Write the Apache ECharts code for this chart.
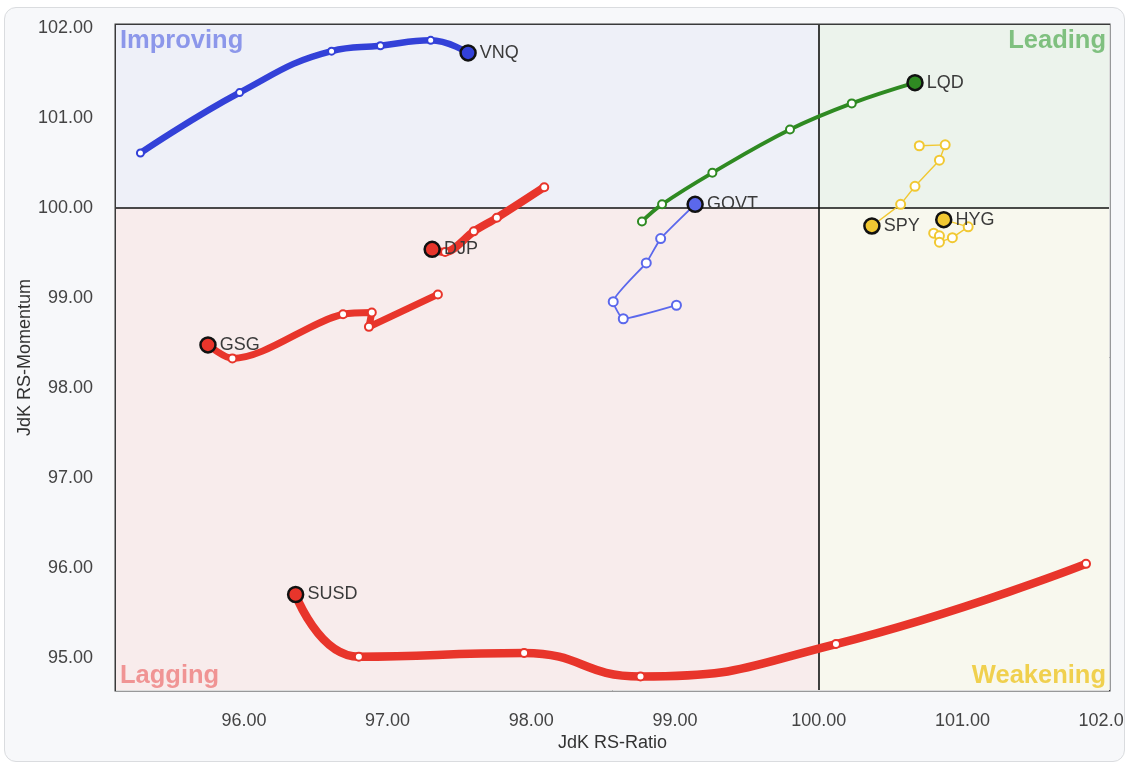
<!DOCTYPE html>
<html>
<head>
<meta charset="utf-8">
<script src="https://cdn.jsdelivr.net/npm/echarts@6/dist/echarts.min.js"></script>
<style>
  html, body { margin: 0; padding: 0; background: #ffffff; width: 1136px; height: 768px; overflow: hidden; }
  #card { position: absolute; left: 4px; top: 7px; width: 1119px; height: 753px; border: 1px solid #dadcdf; border-radius: 12px; background: #f7f8fa; overflow: hidden; }
  #chart { position: absolute; left: 0; top: 0; width: 1119px; height: 753px; }
</style>
</head>
<body>
<div id="card"><div id="chart"></div></div>
<script>
// ---- axis extents ----
const xRange = [95.11, 102.02];
const yRange = [94.65, 102.03];
const centerX = 100;
const centerY = 100;
const splitCount = 7;

// ---- quadrant names ----
const quadrantNames = ['Improving', 'Leading', 'Lagging', 'Weakening'];

// ---- tickers (trail from oldest to latest; last point = head) ----
const tickers = ['VNQ', 'GSG', 'DJP', 'SUSD', 'GOVT', 'LQD', 'SPY', 'HYG'];
const vnqTrail  = [[95.28,100.61],[95.97,101.28],[96.61,101.74],[96.95,101.80],[97.30,101.86],[97.56,101.72]];
const gsgTrail  = [[97.35,99.04],[96.87,98.68],[96.89,98.84],[96.69,98.82],[95.92,98.33],[95.75,98.48]];
const djpTrail  = [[98.09,100.23],[97.76,99.89],[97.60,99.74],[97.40,99.51],[97.31,99.54]];
const susdTrail = [[101.86,96.05],[100.12,95.16],[98.76,94.80],[97.95,95.06],[96.80,95.02],[96.36,95.71]];
const govtTrail = [[99.01,98.92],[98.64,98.77],[98.57,98.96],[98.80,99.39],[98.90,99.66],[99.14,100.04]];
const lqdTrail  = [[98.77,99.85],[98.91,100.04],[99.26,100.39],[99.80,100.87],[100.23,101.16],[100.67,101.39]];
const spyTrail  = [[100.70,100.69],[100.88,100.70],[100.84,100.53],[100.67,100.24],[100.57,100.04],[100.37,99.80]];
const hygTrail  = [[100.80,99.72],[100.84,99.69],[100.84,99.62],[100.93,99.67],[101.04,99.79],[100.87,99.87]];

const trails = { VNQ: vnqTrail, GSG: gsgTrail, DJP: djpTrail, SUSD: susdTrail, GOVT: govtTrail, LQD: lqdTrail, SPY: spyTrail, HYG: hygTrail };

// ---- styles ----
const styles = {
  VNQ:  { color: '#3341d8', width: 6.5, smooth: 0.45, dot: 7 },
  GSG:  { color: '#e8352b', width: 7,   smooth: 0.3,  dot: 8 },
  DJP:  { color: '#e8352b', width: 8,   smooth: 0.3,  dot: 8 },
  SUSD: { color: '#e8352b', width: 8.5, smooth: 0.5,  dot: 8 },
  GOVT: { color: '#5b68ec', width: 1.8, smooth: 0.15, dot: 9 },
  LQD:  { color: '#2f8a22', width: 3.8, smooth: 0.4,  dot: 8 },
  SPY:  { color: '#f1c832', width: 1.4, smooth: 0,    dot: 9 },
  HYG:  { color: '#f1c832', width: 1.4, smooth: 0,    dot: 9 }
};
const quadColors = ['#eef0f8', '#ecf3ec', '#f8ecec', '#f8f8ee'];
const quadText   = ['#8c97ea', '#7fc07f', '#f09494', '#f0d04e'];

const labelFont = '"Liberation Sans", Arial, sans-serif';

const series = [];

// quadrant backgrounds + center lines
series.push({
  type: 'line', data: [], silent: true, z: 0,
  markArea: {
    silent: true,
    label: { show: false },
    data: [
      [{ coord: [xRange[0], centerY], itemStyle: { color: quadColors[0] } }, { coord: [centerX, yRange[1]] }],
      [{ coord: [centerX, centerY], itemStyle: { color: quadColors[1] } }, { coord: [xRange[1], yRange[1]] }],
      [{ coord: [xRange[0], yRange[0]], itemStyle: { color: quadColors[2] } }, { coord: [centerX, centerY] }],
      [{ coord: [centerX, yRange[0]], itemStyle: { color: quadColors[3] } }, { coord: [xRange[1], centerY] }]
    ]
  },
  markLine: {
    silent: true, symbol: ['none', 'none'],
    label: { show: false },
    lineStyle: { color: '#111', width: 1.6, type: 'solid' },
    data: [{ xAxis: centerX }, { yAxis: centerY }]
  }
});

tickers.forEach(function (t, idx) {
  const st = styles[t];
  const pts = trails[t];
  const data = pts.map(function (p, i) {
    if (i === pts.length - 1) {
      return {
        value: p, symbol: 'circle', symbolSize: 15,
        itemStyle: { color: st.color, borderColor: '#111', borderWidth: 2.5 },
        label: { show: true, position: 'right', distance: 3, formatter: t, color: '#3a3a3a', fontSize: 18, fontFamily: labelFont }
      };
    }
    return { value: p };
  });
  series.push({
    name: t, type: 'line', data: data, smooth: st.smooth,
    symbol: 'emptyCircle', symbolSize: st.dot, showSymbol: true,
    lineStyle: { color: st.color, width: st.width, cap: 'round', join: 'round' },
    itemStyle: { color: st.color, borderWidth: 1.6 },
    emphasis: { disabled: true },
    z: 3 + idx
  });
});

function tickFmt(v) {
  return Math.abs(v - Math.round(v)) < 0.001 ? v.toFixed(2) : '';
}

const chart = echarts.init(document.getElementById('chart'), null, { renderer: 'canvas' });
chart.setOption({
  animation: false,
  backgroundColor: 'transparent',
  grid: { left: 111, top: 17, width: 993, height: 665, show: true, borderColor: '#3a3a3a', borderWidth: 3,
          backgroundColor: 'transparent', containLabel: false, outerBoundsMode: 'none' },
  xAxis: {
    type: 'value', min: xRange[0], max: xRange[1], splitNumber: splitCount,
    name: 'JdK RS-Ratio', nameLocation: 'middle', nameGap: 44, nameMoveOverlap: false,
    nameTextStyle: { color: '#333', fontSize: 18, fontFamily: labelFont },
    axisLine: { show: false }, axisTick: { show: false },
    axisLabel: { color: '#444', fontSize: 18, fontFamily: labelFont, margin: 22, formatter: tickFmt },
    splitLine: { show: true, lineStyle: { color: '#dcdcdc', width: 1 } }
  },
  yAxis: {
    type: 'value', min: yRange[0], max: yRange[1], splitNumber: splitCount,
    name: 'JdK RS-Momentum', nameLocation: 'middle', nameGap: 82, nameRotate: 90, nameMoveOverlap: false,
    nameTextStyle: { color: '#333', fontSize: 18, fontFamily: labelFont },
    axisLine: { show: false }, axisTick: { show: false },
    axisLabel: { color: '#444', fontSize: 18, fontFamily: labelFont, margin: 23, formatter: tickFmt },
    splitLine: { show: true, lineStyle: { color: '#dcdcdc', width: 1 } }
  },
  series: series
});

// quadrant captions, positioned at the plot corners through the chart's own scales
const tl = chart.convertToPixel({ gridIndex: 0 }, [xRange[0], yRange[1]]);
const br = chart.convertToPixel({ gridIndex: 0 }, [xRange[1], yRange[0]]);
const capFont = 'bold 25.5px "Liberation Sans", Arial, sans-serif';
const corners = [
  { x: tl[0] + 4, y: tl[1] + 3, align: 'left',  va: 'top' },
  { x: br[0] - 3, y: tl[1] + 3, align: 'right', va: 'top' },
  { x: tl[0] + 4, y: br[1] - 1, align: 'left',  va: 'bottom' },
  { x: br[0] - 3, y: br[1] - 1, align: 'right', va: 'bottom' }
];
chart.setOption({
  graphic: quadrantNames.map(function (n, i) {
    return {
      type: 'text', x: corners[i].x, y: corners[i].y, z: 1, silent: true,
      style: { text: n, fill: quadText[i], font: capFont, textAlign: corners[i].align, textVerticalAlign: corners[i].va }
    };
  })
});
</script>
</body>
</html>
